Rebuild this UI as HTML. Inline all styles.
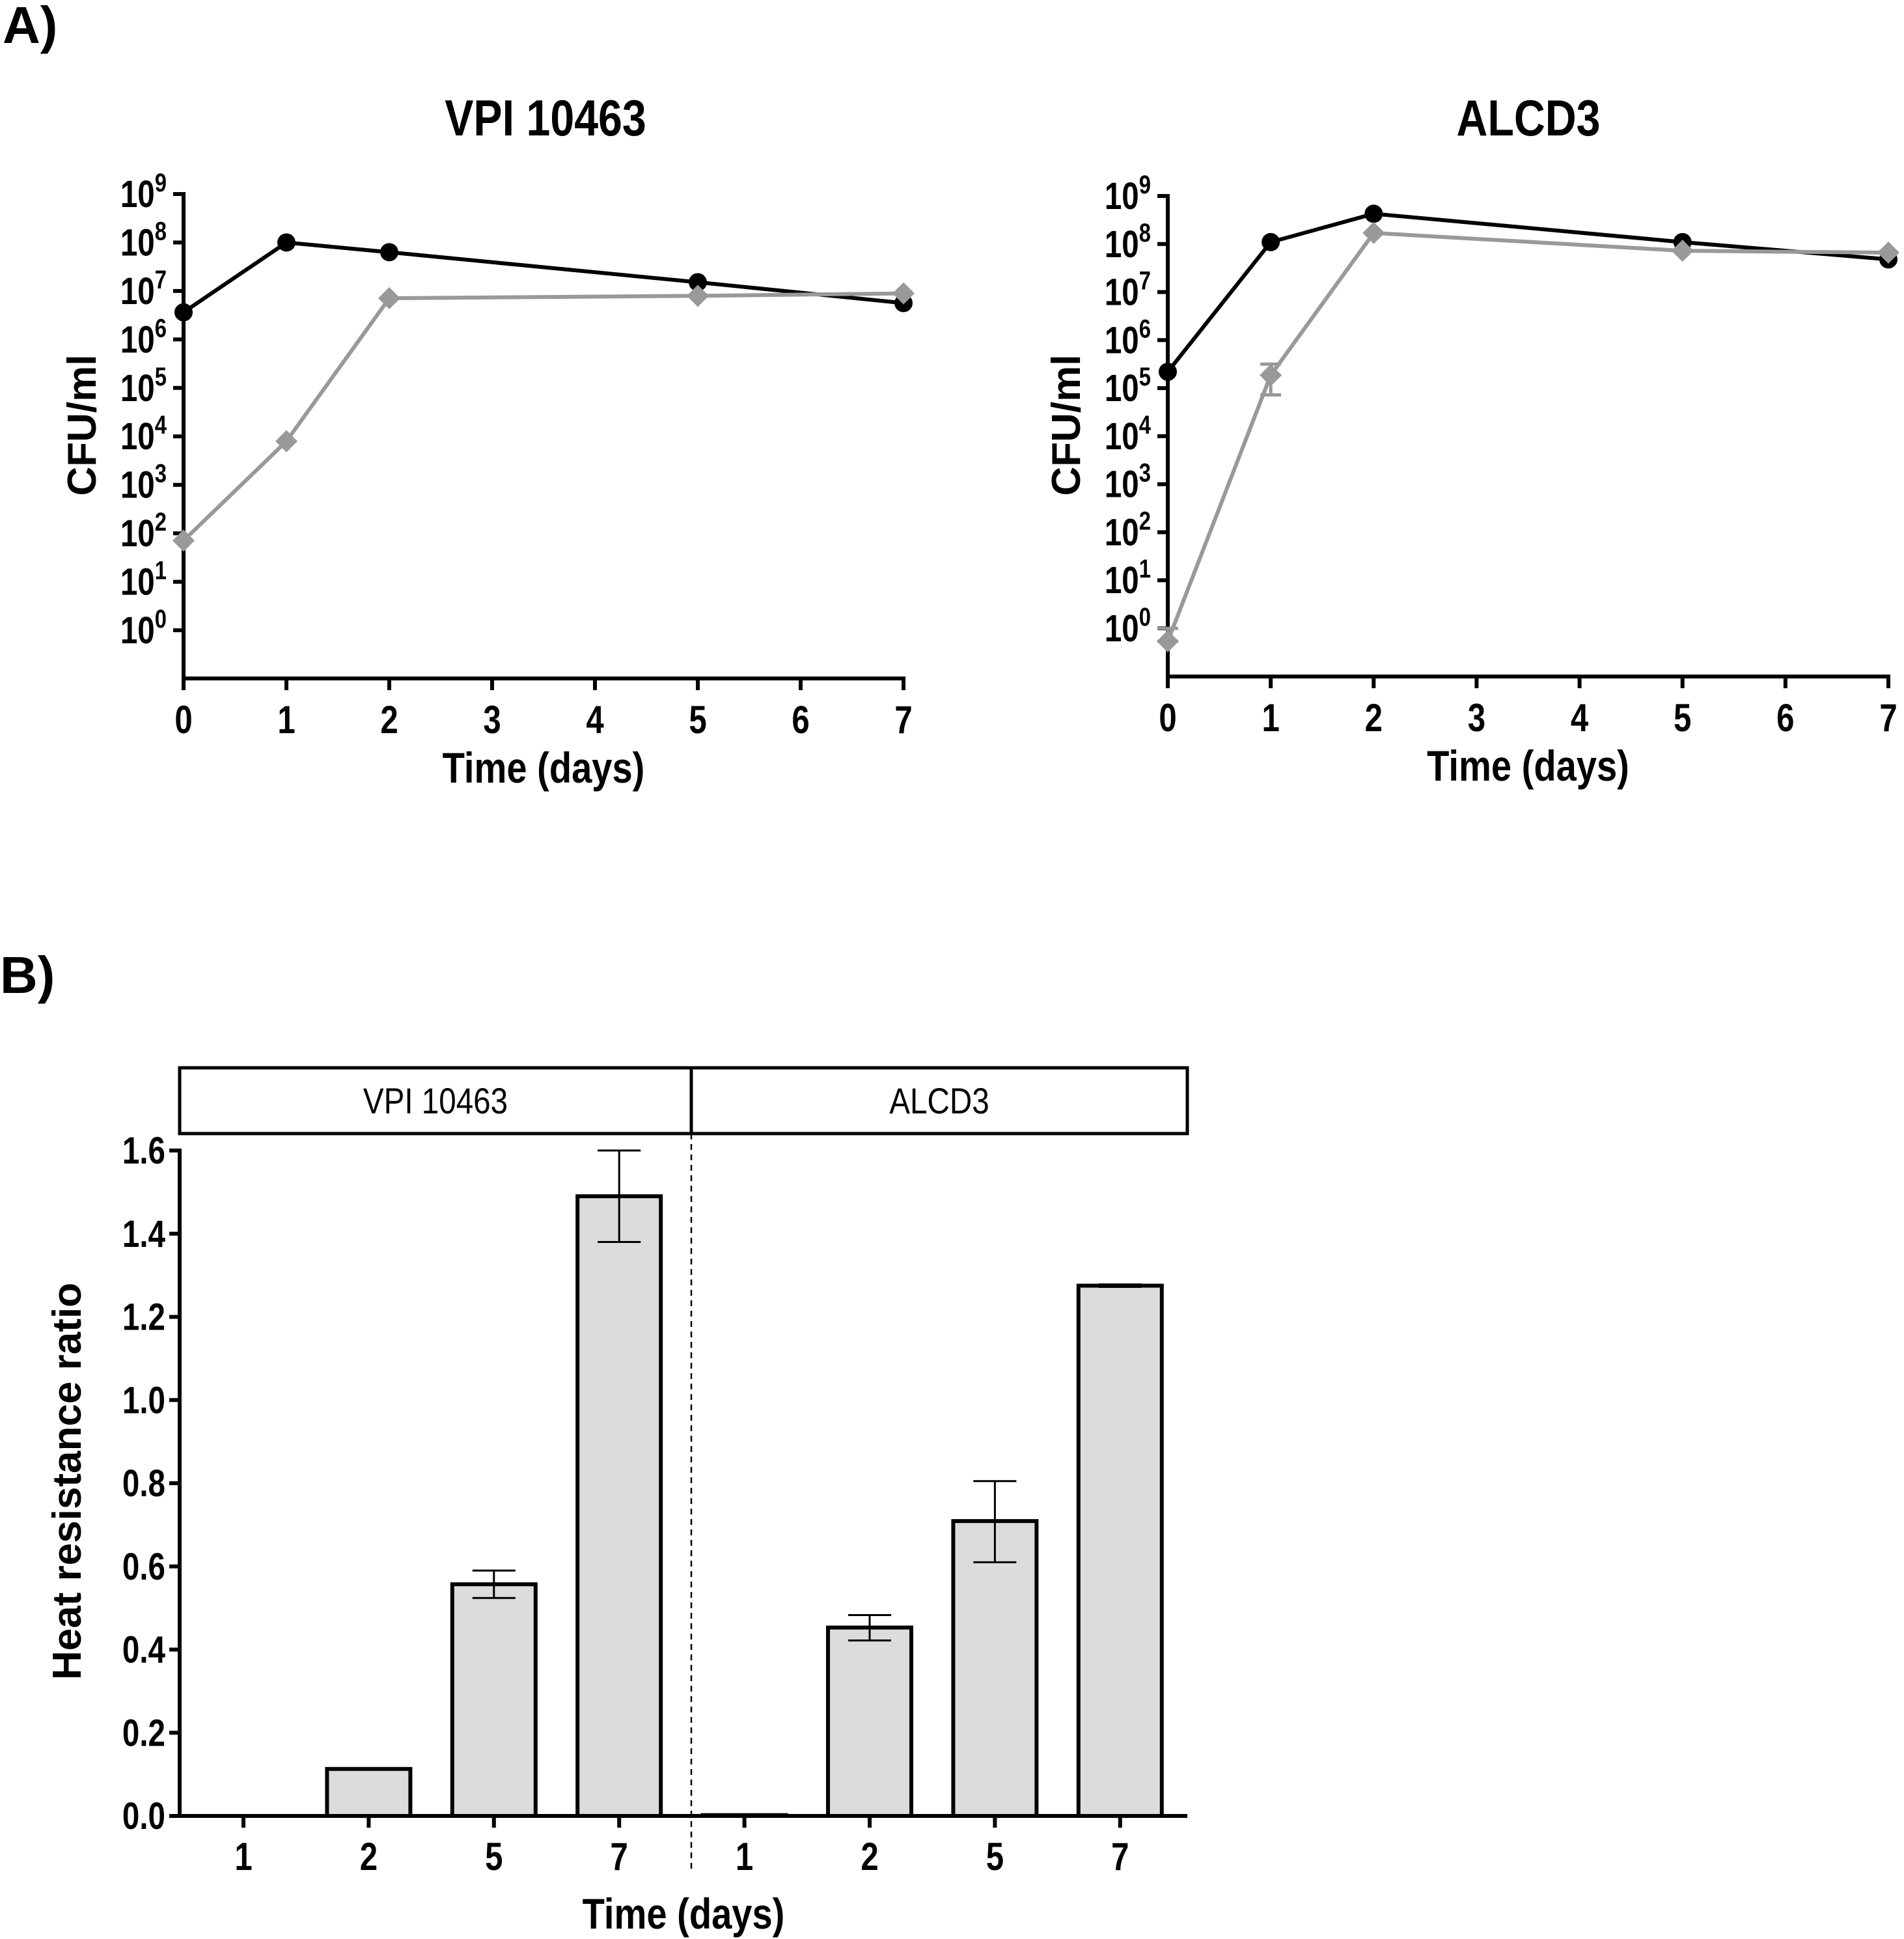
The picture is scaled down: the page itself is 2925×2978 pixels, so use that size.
<!DOCTYPE html>
<html><head><meta charset="utf-8"><style>
html,body{margin:0;padding:0;background:#fff}
svg{display:block}
text{font-family:"Liberation Sans Narrow","Liberation Sans",sans-serif;fill:#000}
</style></head><body>
<svg id="svg" width="2925" height="2978" viewBox="0 0 2925 2978" xmlns="http://www.w3.org/2000/svg">
<text x="4" y="66" font-size="80" style="font-weight:bold">A)</text>
<text x="0" y="1525" font-size="80" style="font-weight:bold">B)</text>
</svg>
<script>
const days = [0,1,2,5,7];
const vpiBlack = [6.56,8.0,7.8,7.18,6.75];
const vpiGray = [1.85,3.9,6.85,6.9,6.95];
const alcBlack = [5.34,8.04,8.63,8.04,7.68];
const alcGray = [-0.27,5.27,8.23,7.86,7.82];
const alcGrayErrHi = [0,5.5,8.23,7.86,7.82];
const alcGrayErrLo = [-0.27,4.86,8.23,7.86,7.82];
const xTicks = [0,1,2,3,4,5,6,7];
const yDecades = [0,1,2,3,4,5,6,7,8,9];

const barLabels = ['1','2','5','7','1','2','5','7'];
const barValues = [0,0.113,0.557,1.49,0.002,0.453,0.709,1.275];
const barErrLo = [0,0.111,0.524,1.38,0.002,0.422,0.61,1.272];
const barErrHi = [0,0.115,0.59,1.60,0.002,0.483,0.805,1.278];
const barTicks = [0,0.2,0.4,0.6,0.8,1.0,1.2,1.4,1.6];

const svg = document.getElementById('svg');
const NS = 'http://www.w3.org/2000/svg';
function mk(tag, attrs, parent){const e=document.createElementNS(NS,tag);for(const k in attrs)e.setAttribute(k,attrs[k]);(parent||svg).appendChild(e);return e;}
function ctext(parent, x, y, size, anchor, str, sx){
  const t = mk('text',{x:0,y:0,'font-size':size,'text-anchor':anchor,transform:`translate(${x},${y}) scale(${sx||0.82},1)`,style:'font-weight:bold'},parent);
  if(str!==null) t.textContent = str;
  return t;
}

function linePanel(name, title, titleX, ax, x7, y9, y0, bottom, black, gray, errHi, errLo){
  const g = mk('g',{});
  
  
  const X = d => ax + (x7-ax)*d/7;
  const Y = v => y0 - (y0-y9)*v/9;
  const t = ctext(g, titleX, 208, 78, 'middle', title, 0.85);
  
  
  mk('line',{x1:ax,y1:Y(9)-3,x2:ax,y2:bottom,stroke:'#000','stroke-width':6},g);
  mk('line',{x1:ax-3,y1:bottom,x2:x7+3,y2:bottom,stroke:'#000','stroke-width':6},g);
  yDecades.forEach(d=>{
    mk('line',{x1:ax-16,y1:Y(d),x2:ax,y2:Y(d),stroke:'#000','stroke-width':6},g);
    const tx = ctext(g, ax-26, Y(d)+20, 58, 'end', null);
    
    
    const a = mk('tspan',{},tx); a.textContent='10';
    const b = mk('tspan',{dy:-24,'font-size':40},tx); b.textContent=String(d);
  });
  xTicks.forEach(d=>{
    mk('line',{x1:X(d),y1:bottom,x2:X(d),y2:bottom+18,stroke:'#000','stroke-width':6},g);
    const tx = ctext(g, X(d), bottom+84, 60, 'middle', String(d));
    
    
  });
  const xl = ctext(g, (ax+x7)/2, bottom+160, 66, 'middle', 'Time (days)', 0.85);
  
  
  const yl = mk('text',{x:0,y:0,'font-size':62,'text-anchor':'middle',transform:`translate(${ax-135},${(Y(9)+Y(0))/2+20}) rotate(-90)`,style:'font-weight:bold'},g);
  yl.textContent='CFU/ml';
  
  
  if(errHi){
    days.forEach((d,i)=>{
      if(errHi[i]===errLo[i]) return;
      mk('line',{x1:X(d),y1:Y(errHi[i]),x2:X(d),y2:Y(errLo[i]),stroke:'#999','stroke-width':5},g);
      mk('line',{x1:X(d)-16,y1:Y(errHi[i]),x2:X(d)+16,y2:Y(errHi[i]),stroke:'#999','stroke-width':5},g);
      mk('line',{x1:X(d)-16,y1:Y(errLo[i]),x2:X(d)+16,y2:Y(errLo[i]),stroke:'#999','stroke-width':5},g);
    });
    mk('line',{x1:ax-16,y1:Y(0),x2:ax+16,y2:Y(0),stroke:'#999','stroke-width':5},g);
  }
  const pb = mk('polyline',{points:days.map((d,i)=>X(d)+','+Y(black[i])).join(' '),fill:'none',stroke:'#000','stroke-width':6},g);
  
  
  days.forEach((d,i)=>{
    const c = mk('circle',{cx:X(d),cy:Y(black[i]),r:14,fill:'#000'},g);
    
    
  });
  const pg = mk('polyline',{points:days.map((d,i)=>X(d)+','+Y(gray[i])).join(' '),fill:'none',stroke:'#999','stroke-width':6},g);
  
  
  days.forEach((d,i)=>{
    const x=X(d), y=Y(gray[i]), s=17;
    const p = mk('polygon',{points:`${x},${y-s} ${x+s},${y} ${x},${y+s} ${x-s},${y}`,fill:'#999'},g);
    
    
  });
}
linePanel('chart-vpi-10463','VPI 10463',838,282,1388,298,968,1042,vpiBlack,vpiGray,null,null);
linePanel('chart-alcd3','ALCD3',2348,1794,2901,301,965,1039,alcBlack,alcGray,alcGrayErrHi,alcGrayErrLo);

// Bar chart
(function(){
  const g = mk('g',{});
  
  
  const ax=276, right=1824, y0=2789, y16=1767;
  const Y = v => y0 - (y0-y16)*v/1.6;
  const c0=374, step=192.4, bw=128;
  const X = i => c0 + step*i;
  const hb = mk('rect',{x:ax,y:1640,width:right-ax,height:101,fill:'#fff',stroke:'#000','stroke-width':5},g);
  
  
  mk('line',{x1:1062,y1:1640,x2:1062,y2:1741,stroke:'#000','stroke-width':5},g);
  const h1 = mk('text',{x:0,y:0,'font-size':56,'text-anchor':'middle',transform:'translate(669,1710) scale(0.85,1)',style:'font-weight:normal'},g);
  h1.textContent='VPI 10463';
  
  
  const h2 = mk('text',{x:0,y:0,'font-size':56,'text-anchor':'middle',transform:'translate(1443,1710) scale(0.85,1)',style:'font-weight:normal'},g);
  h2.textContent='ALCD3';
  
  
  mk('line',{x1:1062,y1:1741,x2:1062,y2:2870,stroke:'#000','stroke-width':2.5,'stroke-dasharray':'9,7'},g);
  mk('line',{x1:ax,y1:y16-3,x2:ax,y2:y0,stroke:'#000','stroke-width':6},g);
  mk('line',{x1:ax-3,y1:y0,x2:right,y2:y0,stroke:'#000','stroke-width':6},g);
  barTicks.forEach(v=>{
    mk('line',{x1:ax-16,y1:Y(v),x2:ax,y2:Y(v),stroke:'#000','stroke-width':6},g);
    const t = ctext(g, ax-22, Y(v)+20, 58, 'end', v.toFixed(1));
    
    
  });
  barValues.forEach((v,i)=>{
    const x = X(i);
    if(v>0.001){
      const r = mk('rect',{x:x-bw/2,y:Y(v),width:bw,height:y0-Y(v),fill:'#dcdcdc',stroke:'#000','stroke-width':6},g);
      
      
    } else if(v>0){
      mk('line',{x1:x-bw/2,y1:Y(v)-2,x2:x+bw/2,y2:Y(v)-2,stroke:'#000','stroke-width':3},g);
    }
    if(barErrHi[i]-barErrLo[i]>0.005){
      mk('line',{x1:x,y1:Y(barErrHi[i]),x2:x,y2:Y(barErrLo[i]),stroke:'#000','stroke-width':3},g);
      mk('line',{x1:x-33,y1:Y(barErrHi[i]),x2:x+33,y2:Y(barErrHi[i]),stroke:'#000','stroke-width':3},g);
      mk('line',{x1:x-33,y1:Y(barErrLo[i]),x2:x+33,y2:Y(barErrLo[i]),stroke:'#000','stroke-width':3},g);
    }
    mk('line',{x1:x,y1:y0,x2:x,y2:y0+18,stroke:'#000','stroke-width':6},g);
    const t = ctext(g, x, 2872, 60, 'middle', barLabels[i]);
    
    
  });
  const xl = ctext(g, 1050, 2962, 66, 'middle', 'Time (days)', 0.85);
  
  
  const yl = mk('text',{x:0,y:0,'font-size':62,'text-anchor':'middle',transform:'translate(124,2275) rotate(-90)',style:'font-weight:bold'},g);
  yl.textContent='Heat resistance ratio';
  
  
})();
</script>
</body></html>
